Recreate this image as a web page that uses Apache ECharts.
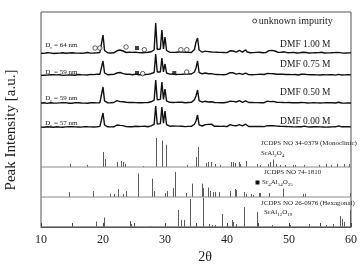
<!DOCTYPE html>
<html>
<head>
<meta charset="utf-8">
<script src="https://cdn.jsdelivr.net/npm/echarts@6/dist/echarts.min.js"></script>
<style>
  html, body { margin: 0; padding: 0; background: #fff; }
  #chart { width: 360px; height: 266px; }
</style>
</head>
<body>
<div id="chart"></div>
<script>
// 2θ grid of the measured patterns
var thetaStart = 10, thetaStep = 0.25;

// measured patterns, intensity above each pattern's own baseline
var dmf100 = [
  0.8,1.2,0.6,1.0, 1.3,0.7,1.1,0.9, 0.5,1.2,0.8,1.4, 0.9,0.6,1.3,1.0, 0.7,1.5,1.0,0.8,
  1.2,0.6,1.0,1.4, 0.9,1.1,0.7,1.3, 1.0,0.8,1.5,1.1, 0.9,1.4,1.0,1.8, 1.2,2.0,1.5,3.0,
  19,3.5,1.8,1.2, 1.5,1.0,1.4,1.2, 1.6,3.2,2.0,4.0, 5.0,3.0,2.2,1.5, 1.4,1.8,1.2,1.6,
  1.3,1.7,2.0,1.4, 1.6,1.2,1.9,1.5, 1.3,1.8,1.6,2.2, 2.5,4.0,31,4.5, 2.5,5.0,24,5.0,
  17,3.5,2.4,1.8, 2.0,1.6,2.2,1.7, 1.5,2.0,1.6,1.9, 1.4,1.8,2.1,1.6, 1.8,1.5,2.2,4.5,
  12,16,4.0,2.2, 1.8,2.0,2.8,3.4, 2.4,3.2,2.0,1.6, 1.9,1.4,1.7,1.3, 1.6,1.2,1.5,1.8,
  1.4,1.9,3.2,4.0, 3.0,2.6,1.8,2.4, 3.6,2.2,1.9,2.4, 4.2,2.0,1.6,1.3, 1.7,1.4,1.2,1.6,
  1.3,1.8,1.5,1.2, 1.6,1.4,2.4,3.4, 2.6,3.6,2.4,3.0, 2.0,1.6,1.3,1.7, 1.4,2.2,1.6,1.3,
  1.8,1.4,1.2,1.6, 1.3,1.0,1.5,1.2, 1.4,1.8,2.2,1.5, 1.2,1.0,1.4,1.1, 0.9,1.3,1.0,1.4,
  1.2,1.7,1.3,1.0, 1.4,1.1,0.8,1.2, 1.0,1.4,1.1,1.6, 2.0,1.4,1.1,0.9, 1.3,1.0,1.5,1.1,
  1.2
];
var dmf075 = [
  0.6,1.0,0.8,1.3, 0.9,0.5,1.2,1.0, 1.4,0.8,1.1,0.7, 1.2,1.0,0.6,1.3, 0.9,1.4,1.1,0.8,
  1.0,1.3,0.7,1.1, 1.5,0.9,1.2,0.8, 1.1,1.4,1.0,1.3, 1.6,1.1,1.4,1.2, 1.7,1.3,1.8,3.0,
  15,3.0,1.6,1.3, 1.1,1.5,1.2,1.6, 1.4,3.0,1.8,3.5, 4.2,2.4,1.6,1.8, 1.3,1.7,1.4,1.2,
  1.6,1.9,1.5,1.3, 1.7,1.4,1.8,1.5, 1.2,1.6,1.9,2.3, 2.6,3.5,22,4.0, 2.2,4.0,18,4.2,
  12,3.0,2.2,1.9, 1.7,2.1,1.8,1.5, 1.9,1.6,2.0,1.7, 1.5,1.9,1.6,2.0, 1.7,2.0,1.8,4.0,
  8,15,3.5,2.0, 2.2,1.8,3.0,3.2, 2.2,3.6,2.4,1.8, 1.6,2.0,1.5,1.8, 1.4,1.7,1.3,1.6,
  1.8,1.5,3.4,3.8, 3.2,2.4,1.9,3.4, 2.6,2.0,1.6,2.2, 2.8,1.7,1.4,1.6, 1.3,1.7,1.4,1.2,
  1.6,1.3,1.7,1.4, 1.5,1.8,2.6,3.6, 2.4,3.4,2.2,3.0, 1.8,1.5,1.9,1.4, 1.7,2.4,1.5,1.3,
  1.6,1.9,1.4,1.2, 1.5,1.2,1.0,1.4, 1.7,1.3,1.8,1.1, 1.4,1.0,1.3,0.9, 1.2,1.5,1.1,0.8,
  1.0,1.4,1.2,1.5, 1.1,0.9,1.3,1.0, 1.4,1.1,0.9,1.3, 1.6,1.2,1.0,1.4, 1.1,0.8,1.2,1.0,
  1.1
];
var dmf050 = [
  1.0,0.7,1.2,0.9, 0.6,1.1,1.3,0.8, 1.0,1.4,0.9,0.6, 1.1,0.8,1.3,1.0, 1.4,0.9,0.7,1.2,
  0.8,1.1,1.4,1.0, 1.2,0.8,1.0,1.3, 0.9,1.2,0.8,1.1, 1.3,1.0,1.2,1.4, 1.1,1.5,1.3,2.6,
  17,3.2,1.5,1.1, 1.4,1.2,1.0,1.5, 1.3,3.4,2.0,2.4, 2.8,2.2,1.5,1.7, 1.2,1.5,1.3,1.6,
  1.1,1.4,1.7,1.2, 1.5,1.3,1.6,1.4, 1.8,1.5,1.7,2.2, 2.5,3.8,24,4.2, 2.4,4.6,22,4.6,
  15,3.2,2.0,1.7, 1.9,1.5,1.8,1.6, 1.4,1.8,1.5,1.7, 1.6,1.3,1.9,1.5, 1.8,1.6,2.0,4.2,
  8,14,3.4,2.1, 1.9,2.2,2.7,3.0, 2.0,3.2,2.3,1.7, 1.5,1.8,1.4,1.6, 1.3,1.6,1.2,1.5,
  1.7,1.4,2.8,3.2, 2.6,3.0,2.0,2.8, 3.3,2.0,1.7,2.2, 3.2,1.8,1.5,1.3, 1.5,1.2,1.4,1.1,
  1.4,1.6,1.2,1.5, 1.3,1.6,2.8,3.2, 2.4,3.6,2.6,2.8, 1.8,1.4,1.6,1.3, 1.5,2.3,1.4,1.2,
  1.5,1.7,1.3,1.1, 1.4,1.1,1.3,1.0, 1.5,1.9,1.4,1.2, 1.0,1.3,1.1,1.4, 1.2,0.9,1.1,1.3,
  1.0,1.5,1.1,0.9, 1.3,1.0,1.2,0.8, 1.2,1.5,1.0,1.3, 1.8,1.3,1.0,1.2, 0.9,1.3,1.1,0.8,
  1.0
];
var dmf000 = [
  0.9,1.3,0.8,1.1, 1.2,0.7,1.0,1.4, 0.8,1.1,1.3,0.9, 1.0,1.4,0.8,1.2, 1.1,0.7,1.3,1.0,
  1.4,0.9,1.1,0.8, 1.0,1.3,0.9,1.2, 1.4,1.0,1.2,0.9, 1.1,1.3,1.0,1.5, 1.2,1.4,1.6,2.8,
  15,3.0,1.6,1.2, 1.3,1.1,1.5,1.2, 1.5,3.0,1.9,2.6, 3.2,2.4,1.7,1.4, 1.6,1.3,1.5,1.2,
  1.4,1.7,1.3,1.5, 1.2,1.6,1.4,1.8, 1.5,1.3,1.9,2.1, 2.4,3.6,22,4.0, 2.3,4.4,21,4.8,
  17,3.4,2.1,1.8, 1.6,2.0,1.7,1.9, 1.5,1.9,1.6,1.8, 1.7,1.4,1.8,1.6, 1.9,1.6,2.1,3.8,
  7,13,3.2,2.2, 2.0,2.4,3.4,2.6, 3.6,2.4,3.8,1.9, 1.7,1.5,1.9,1.4, 1.6,1.3,1.7,1.5,
  1.4,1.8,3.4,3.0, 2.4,3.2,2.2,1.9, 3.4,2.0,2.2,1.7, 3.8,1.9,1.5,1.4, 1.6,1.3,1.5,1.2,
  1.5,1.2,1.6,1.3, 1.4,1.7,2.4,3.0, 2.2,3.2,2.4,2.8, 1.9,1.5,1.7,1.3, 1.6,2.2,1.5,1.3,
  1.4,1.6,1.2,1.5, 1.1,1.4,1.2,1.0, 1.3,1.7,1.9,1.3, 1.1,1.4,1.0,1.2, 1.3,1.0,1.2,0.9,
  1.1,1.4,1.0,1.3, 0.9,1.2,1.0,1.3, 1.1,1.4,1.2,1.5, 2.2,1.6,1.2,1.0, 1.3,1.0,1.2,0.9,
  1.1
];
var patterns = [dmf100, dmf075, dmf050, dmf000];
var patternNames = ['DMF 1.00 M', 'DMF 0.75 M', 'DMF 0.50 M', 'DMF 0.00 M'];
var patternBase = [173, 151, 123, 99];
var crystalSize = ['64', '59', '59', '57'];

// reference cards: [2θ, relative height]
var monoclinic = [
  [14.7,3],[17.4,2],[20.07,15],[20.25,8],[22.2,5],[22.9,6],[23.2,5],[23.55,3],[26.45,1],
  [28.5,29],[29.45,26.5],[30.1,22.3],[33.5,2],[34.95,10],[35.3,20],[36.6,4],[37.0,5],[37.35,5],
  [38.1,3],[38.9,2],[40.65,5],[40.9,5],[41.3,4],[41.9,5],[42.15,3],[43.05,6],[44.9,3],[45.4,2],
  [46.55,3],[46.9,5],[47.35,7.5],[47.9,3],[48.6,2],[49.4,2],[50.6,2],[51.0,2],[52.4,2],
  [54.85,2],[55.9,3],[56.7,2],[57.8,3],[58.9,3],[59.7,3]
];
var sr4al14o25 = [
  [14.45,5],[18.36,6],[21.2,3],[21.7,3],[22.4,8],[23.3,3],[23.7,6],[25.6,23.4],[27.95,18.4],
  [28.15,6],[29.95,4],[30.25,6],[31.27,9],[31.6,25],[33.4,4],[34.4,13.4],[36.0,13.4],[36.2,9],
  [36.95,9.5],[37.2,6],[37.7,5],[38.0,5],[38.7,5],[40.5,6],[41.25,8],[41.4,7],[42.8,5],[43.0,3],
  [43.8,3],[44.2,2],[45.1,4],[45.25,4],[46.8,4],[49.1,8.4],[52.3,3],[52.6,3],[59.8,4]
];
var hexagonal = [
  [18.95,5.5],[20.15,9.5],[24.3,6],[24.5,3],[27.6,1],[32.1,17],[32.55,7],[33.1,7],[34.0,28],
  [36.12,29],[37.1,3],[37.55,2],[38.0,2],[39.22,13],[40.75,7],[41.0,5],[41.4,3],[42.8,20],
  [44.8,15],[47.3,2],[50.1,2],[53.2,3],[56.0,2],[57.1,3],[58.3,11],[58.55,8],[58.8,5],[59.9,17]
];
var cards = [monoclinic, sr4al14o25, hexagonal];
var cardBase = [60, 30, 0];

// phase markers on the patterns
var impurityMarks = [[18.73,179],[19.49,179],[23.72,180],[26.67,177.3],[32.56,177.3],[33.52,177.3],
  [26.4,153.3],[33.5,155]];
var sr4Marks = [[25.48,179],[25.48,154],[31.5,154]];

var serif = '"Liberation Serif", "DejaVu Serif", serif';

var chart = echarts.init(document.getElementById('chart'));

var series = [];
patterns.forEach(function (vals, k) {
  series.push({
    type: 'line',
    name: patternNames[k],
    data: vals.map(function (v, i) { return [thetaStart + i * thetaStep, patternBase[k] + v]; }),
    symbol: 'none',
    lineStyle: { color: '#111', width: 1.4 },
    z: 3
  });
});

cards.forEach(function (card, k) {
  series.push({
    type: 'line',
    data: [[10, cardBase[k]], [60, cardBase[k]]],
    symbol: 'none',
    lineStyle: { color: '#888', width: 1 },
    z: 2
  });
  series.push({
    type: 'custom',
    data: card.map(function (d) { return [d[0], cardBase[k], d[1]]; }),
    encode: { x: 0, y: 1 },
    renderItem: function (params, api) {
      var p0 = api.coord([api.value(0), api.value(1)]);
      var p1 = api.coord([api.value(0), api.value(1) + api.value(2)]);
      var x = Math.round(p0[0]) + 0.5;
      return {
        type: 'line',
        shape: { x1: x, y1: p0[1], x2: x, y2: p1[1] },
        style: { stroke: '#5c5c5c', lineWidth: 1 }
      };
    },
    z: 2
  });
});

series.push({
  type: 'scatter',
  data: impurityMarks,
  symbol: 'circle',
  symbolSize: 4.5,
  itemStyle: { color: '#fff', borderColor: '#222', borderWidth: 0.9 },
  z: 4
});
series.push({
  type: 'scatter',
  data: sr4Marks,
  symbol: 'rect',
  symbolSize: 4,
  itemStyle: { color: '#111' },
  z: 4
});

var txt = function (x, y, text, size, align, extra) {
  var style = {
    x: x, y: y, text: text, fill: '#222',
    font: size + 'px ' + serif,
    textAlign: align || 'left', textVerticalAlign: 'middle'
  };
  if (extra) Object.keys(extra).forEach(function (k) { style[k] = extra[k]; });
  return { type: 'text', z: 10, style: style };
};
var subRich = function (main, sub) {
  return {
    n: { fontSize: main, fontFamily: serif, fill: '#222' },
    s: { fontSize: sub, fontFamily: serif, fill: '#222', padding: [5, 0, 0, 0] }
  };
};

var sizeY = [45.5, 72, 98, 123];
var dmfY = [44.7, 64.3, 92, 121.3];
var graphics = [
  { type: 'circle', shape: { cx: 254.7, cy: 21, r: 2 }, style: { fill: '#fff', stroke: '#222', lineWidth: 0.8 }, z: 10 },
  txt(258.7, 21, 'unknown impurity', 10),
  txt(261, 143.5, 'JCDPS NO 34-0379 (Monoclinic)', 7),
  txt(261, 153.5, '{n|SrAl}{s|2}{n|O}{s|4}', 7, 'left', { rich: subRich(7, 5) }),
  txt(264, 172.5, 'JCDPS NO 74-1810', 7),
  { type: 'rect', shape: { x: 255.5, y: 180.5, width: 4, height: 4 }, style: { fill: '#111' }, z: 10 },
  txt(262, 182.5, '{n|Sr}{s|4}{n|Al}{s|14}{n|O}{s|25}', 7, 'left', { rich: subRich(7, 5) }),
  txt(261, 203, 'JCDPS NO 26-0976 (Hexagonal)', 7),
  txt(264, 212.5, '{n|SrAl}{s|12}{n|O}{s|19}', 7, 'left', { rich: subRich(7, 5) }),
  txt(205, 257, '2θ', 14, 'center'),
  {
    type: 'text', z: 10, x: 11, y: 130, rotation: Math.PI / 2,
    style: { text: 'Peak Intensity [a.u.]', fill: '#222', font: '15px ' + serif,
      textAlign: 'center', textVerticalAlign: 'middle' }
  }
];
patternNames.forEach(function (n, k) {
  graphics.push(txt(330.5, dmfY[k], n, 9.5, 'right'));
  graphics.push(txt(45.3, sizeY[k], '{n|D}{s|c}{n| = ' + crystalSize[k] + ' nm}', 7, 'left', { rich: subRich(7, 4.5) }));
});

chart.setOption({
  animation: false,
  grid: { left: 41, right: 8, top: 12, bottom: 39, show: true, borderColor: '#555', borderWidth: 1 },
  xAxis: {
    type: 'value', min: 10, max: 60, interval: 10,
    axisLine: { lineStyle: { color: '#444', width: 1 } },
    axisTick: { inside: true, length: 4, lineStyle: { color: '#444' } },
    minorTick: { show: true, splitNumber: 2, length: 4, lineStyle: { color: '#444' } },
    splitLine: { show: false },
    axisLabel: { color: '#222', fontFamily: serif, fontSize: 12, margin: 7 }
  },
  yAxis: { type: 'value', min: 0, max: 215, show: false },
  series: series,
  graphic: graphics
});
</script>
</body>
</html>
